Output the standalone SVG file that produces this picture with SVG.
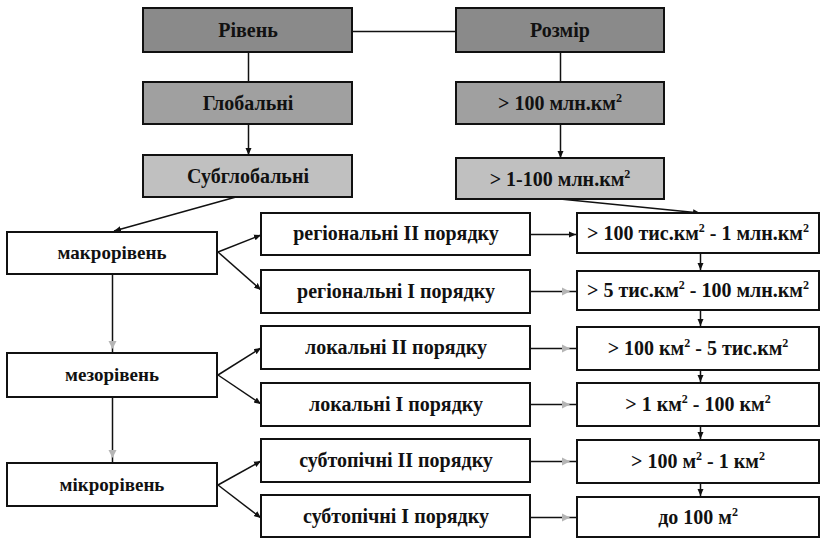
<svg xmlns="http://www.w3.org/2000/svg" width="821" height="538" viewBox="0 0 821 538">
<defs>
<marker id="ah" markerWidth="8" markerHeight="8" refX="7" refY="4" orient="auto" markerUnits="userSpaceOnUse">
<path d="M0,1 L7,4 L0,7 Z" fill="#111"/>
</marker>
</defs>
<style>
.box{stroke:#111;stroke-width:2;fill:#fff}
.d1{fill:#8a8a8a}
.d2{fill:#a0a0a0}
.d3{fill:#c0c0c0}
text{font-family:'Liberation Serif','Times New Roman',Times,serif;font-weight:700;font-size:20px;fill:#111;text-anchor:middle}
.tl{font-size:19px}
.c{stroke:#111;stroke-width:1.5;fill:none}
.a{marker-end:url(#ah)}
.fh{fill:#b5b5b5}
.sup{font-size:12px}
</style>
<rect width="821" height="538" fill="#fff"/>
<g id="connectors">
<line class="c" x1="352" y1="31.5" x2="456" y2="31.5"/>
<line class="c" x1="248.5" y1="52" x2="248.5" y2="82"/>
<line class="c" x1="560.5" y1="52" x2="560.5" y2="82"/>
<line class="c a" x1="248.5" y1="124" x2="248.5" y2="155"/>
<line class="c a" x1="560.5" y1="124" x2="560.5" y2="158"/>
<line class="c a" x1="236" y1="197" x2="114" y2="231"/>
<line class="c a" x1="560" y1="199" x2="700" y2="213"/>
<line class="c" x1="112.5" y1="274" x2="112.5" y2="353"/>
<line class="c" x1="112.5" y1="397" x2="112.5" y2="463"/>
<path class="fh" d="M108.5,341 L112.5,349 L116.5,341 Z M108.5,450 L112.5,458 L116.5,450 Z"/>
<line class="c a" x1="218" y1="252" x2="261" y2="235"/>
<line class="c a" x1="218" y1="252" x2="261" y2="290"/>
<line class="c a" x1="218" y1="375" x2="261" y2="348"/>
<line class="c a" x1="218" y1="375" x2="261" y2="404"/>
<line class="c a" x1="218" y1="485" x2="261" y2="461"/>
<line class="c a" x1="218" y1="485" x2="261" y2="518"/>
<line class="c a" x1="530" y1="234.5" x2="576" y2="234.5"/>
<line class="c" x1="530" y1="291.5" x2="576" y2="291.5"/>
<line class="c" x1="530" y1="348.5" x2="576" y2="348.5"/>
<line class="c" x1="530" y1="404.5" x2="576" y2="404.5"/>
<line class="c" x1="530" y1="461.5" x2="576" y2="461.5"/>
<line class="c" x1="530" y1="517.5" x2="576" y2="517.5"/>
<path class="fh" d="M562,287.5 L570,291.5 L562,295.5 Z M562,344.5 L570,348.5 L562,352.5 Z M562,400.5 L570,404.5 L562,408.5 Z M562,457.5 L570,461.5 L562,465.5 Z M562,513.5 L570,517.5 L562,521.5 Z"/>
<line class="c a" x1="700.5" y1="253" x2="700.5" y2="270"/>
<line class="c a" x1="700.5" y1="310" x2="700.5" y2="326"/>
<line class="c a" x1="700.5" y1="370" x2="700.5" y2="382"/>
<line class="c a" x1="700.5" y1="426" x2="700.5" y2="439"/>
<line class="c a" x1="700.5" y1="483" x2="700.5" y2="496"/>
</g>
<g id="riven"><rect class="box d1" x="143" y="8" width="209" height="44"/><text x="248" y="37">Рівень</text></g>
<g id="rozmir"><rect class="box d1" x="456" y="8" width="208" height="44"/><text x="560" y="37">Розмір</text></g>
<g id="globalni"><rect class="box d2" x="143" y="82" width="209" height="42"/><text x="248" y="110">Глобальні</text></g>
<g id="size1"><rect class="box d2" x="456" y="82" width="208" height="42"/><text x="560" y="110">&gt; 100 млн.км<tspan class="sup" dy="-8">2</tspan></text></g>
<g id="subglobalni"><rect class="box d3" x="143" y="155" width="209" height="42"/><text x="248" y="183">Субглобальні</text></g>
<g id="size2"><rect class="box d3" x="456" y="158" width="208" height="41"/><text x="560" y="186">&gt; 1-100 млн.км<tspan class="sup" dy="-8">2</tspan></text></g>
<g id="makro"><rect class="box" x="7" y="232" width="210" height="42"/><text class="tl" x="112" y="259">макрорівень</text></g>
<g id="mezo"><rect class="box" x="7" y="353" width="210" height="44"/><text class="tl" x="112" y="381">мезорівень</text></g>
<g id="mikro"><rect class="box" x="7" y="463" width="210" height="43"/><text class="tl" x="112" y="491">мікрорівень</text></g>
<g id="reg2"><rect class="box" x="261" y="213" width="269" height="42"/><text x="396" y="240">регіональні II порядку</text></g>
<g id="reg1"><rect class="box" x="261" y="270" width="269" height="43"/><text x="396" y="298">регіональні I порядку</text></g>
<g id="lok2"><rect class="box" x="261" y="326" width="269" height="43"/><text x="396" y="354">локальні II порядку</text></g>
<g id="lok1"><rect class="box" x="261" y="383" width="269" height="43"/><text x="396" y="411">локальні I порядку</text></g>
<g id="sub2"><rect class="box" x="261" y="439" width="269" height="43"/><text x="396" y="467">субтопічні II порядку</text></g>
<g id="sub1"><rect class="box" x="261" y="495" width="269" height="42"/><text x="396" y="523">субтопічні I порядку</text></g>
<g id="r1"><rect class="box" x="577" y="213" width="242" height="40"/><text x="698" y="240">&gt; 100 тис.км<tspan class="sup" dy="-8">2</tspan><tspan dy="8"> - 1 млн.км</tspan><tspan class="sup" dy="-8">2</tspan></text></g>
<g id="r2"><rect class="box" x="577" y="271" width="242" height="39"/><text x="698" y="297">&gt; 5 тис.км<tspan class="sup" dy="-8">2</tspan><tspan dy="8"> - 100 млн.км</tspan><tspan class="sup" dy="-8">2</tspan></text></g>
<g id="r3"><rect class="box" x="577" y="327" width="242" height="43"/><text x="698" y="355">&gt; 100 км<tspan class="sup" dy="-8">2</tspan><tspan dy="8"> - 5 тис.км</tspan><tspan class="sup" dy="-8">2</tspan></text></g>
<g id="r4"><rect class="box" x="577" y="383" width="242" height="43"/><text x="698" y="411">&gt; 1 км<tspan class="sup" dy="-8">2</tspan><tspan dy="8"> - 100 км</tspan><tspan class="sup" dy="-8">2</tspan></text></g>
<g id="r5"><rect class="box" x="577" y="440" width="242" height="43"/><text x="698" y="468">&gt; 100 м<tspan class="sup" dy="-8">2</tspan><tspan dy="8"> - 1 км</tspan><tspan class="sup" dy="-8">2</tspan></text></g>
<g id="r6"><rect class="box" x="577" y="497" width="242" height="40"/><text x="698" y="524">до 100 м<tspan class="sup" dy="-8">2</tspan></text></g>
</svg>
